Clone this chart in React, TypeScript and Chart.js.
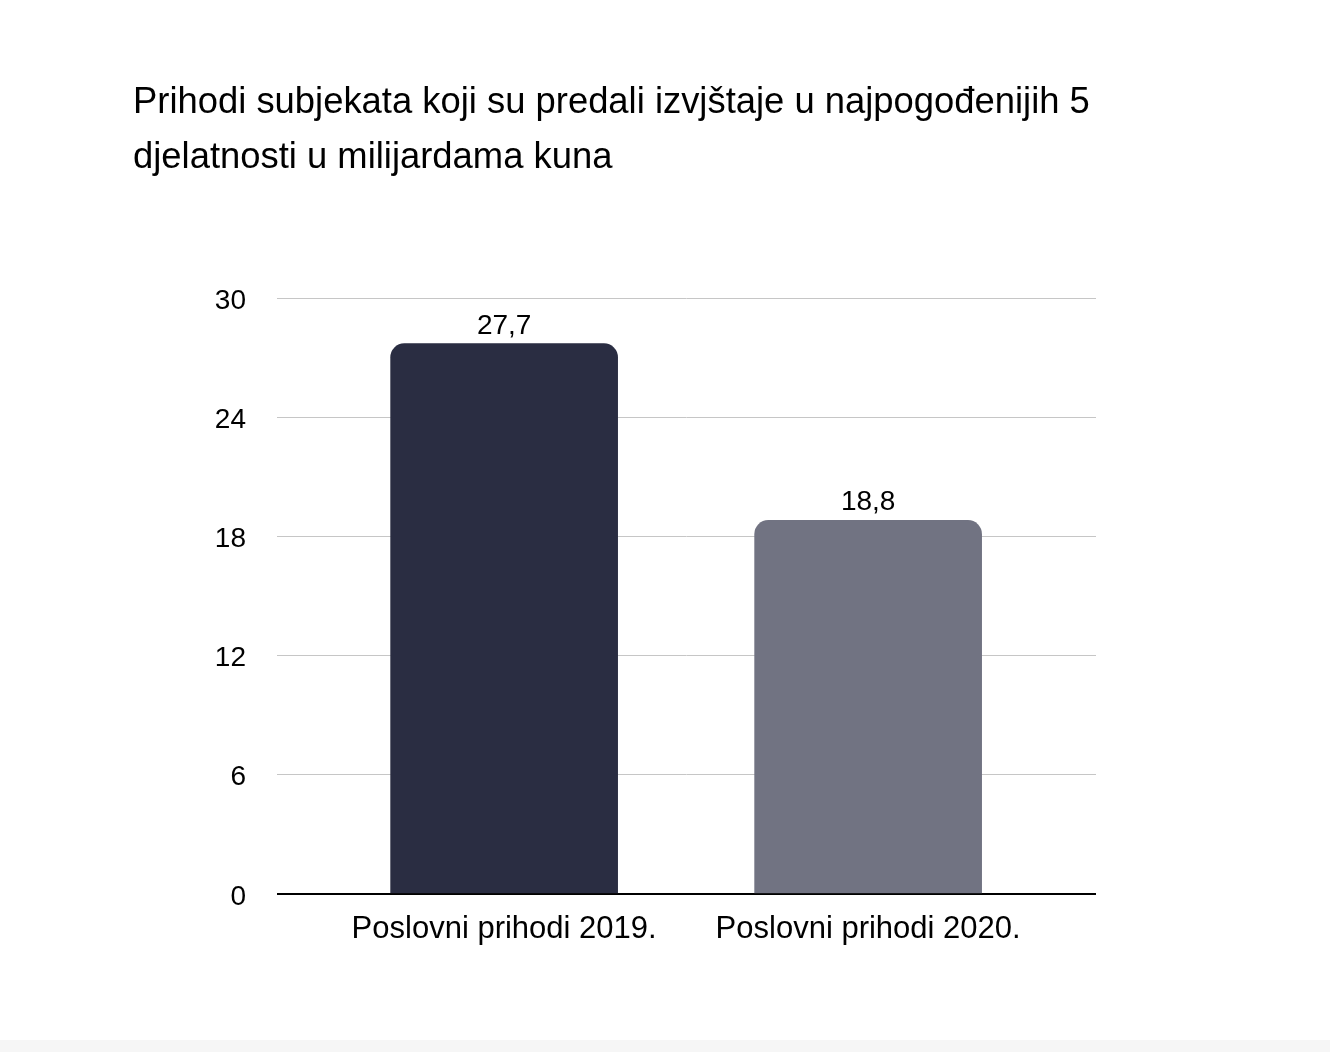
import { useEffect, useRef } from "react";
import { Chart, registerables } from "chart.js";

Chart.register(...registerables);

const categories = ["Poslovni prihodi 2019.", "Poslovni prihodi 2020."];
const values = [27.7, 18.8];
const barColors = ["#2a2d42", "#717382"];
const yTicks = [0, 6, 12, 18, 24, 30];
const titleLines = [
  "Prihodi subjekata koji su predali izvjštaje u najpogođenijih 5",
  "djelatnosti u milijardama kuna",
];

const FONT = "'Liberation Sans', Helvetica, Arial, sans-serif";

const fmt = (v: number) => v.toFixed(1).replace(".", ",");

const valueLabels = {
  id: "valueLabels",
  afterDatasetsDraw(chart: Chart) {
    const { ctx } = chart;
    const meta = chart.getDatasetMeta(0);
    ctx.save();
    ctx.font = `28px ${FONT}`;
    ctx.fillStyle = "#000";
    ctx.textAlign = "center";
    ctx.textBaseline = "alphabetic";
    meta.data.forEach((el: any, i: number) => {
      ctx.fillText(fmt(values[i]), el.x, el.y - 10);
    });
    ctx.restore();
  },
};

export default function App() {
  const canvasRef = useRef<HTMLCanvasElement | null>(null);

  useEffect(() => {
    if (!canvasRef.current) return;

    const chart = new Chart(canvasRef.current, {
      type: "bar",
      data: {
        datasets: [
          {
            data: values.map((v, i) => ({ x: i, y: v })),
            backgroundColor: barColors,
            borderWidth: 0,
            borderRadius: 14,
            borderSkipped: "start",
            barThickness: 227,
          },
        ],
      },
      options: {
        responsive: true,
        maintainAspectRatio: false,
        animation: false,
        layout: {
          padding: { left: 133, right: 234, top: 0, bottom: 95 },
        },
        plugins: {
          legend: { display: false },
          tooltip: { enabled: false },
          title: {
            display: true,
            text: titleLines,
            align: "start",
            color: "#000",
            font: { family: FONT, size: 36.4, weight: "normal", lineHeight: 55 / 36.4 },
            padding: { top: 75, bottom: 113 },
          },
        },
        scales: {
          x: {
            type: "linear",
            min: -0.624,
            max: 1.626,
            offset: false,
            bounds: "data",
            grid: { display: false, offset: false },
            border: { display: false },
            afterBuildTicks: (scale: any) => {
              scale.ticks = categories.map((_, i) => ({ value: i }));
            },
            ticks: {
              color: "#000",
              padding: 9,
              maxRotation: 0,
              minRotation: 0,
              autoSkip: false,
              font: { family: FONT, size: 31 },
              callback: (v: any) => categories[v] ?? "",
            },
          },
          y: {
            min: 0,
            max: 30,
            afterBuildTicks: (scale: any) => {
              scale.ticks = yTicks.map((v) => ({ value: v }));
            },
            afterFit: (scale: any) => {
              scale.width = 144;
            },
            border: { display: false },
            grid: {
              drawTicks: false,
              color: (c: any) => (c.tick && c.tick.value === 0 ? "#000" : "#c6c6c6"),
              lineWidth: (c: any) => (c.tick && c.tick.value === 0 ? 2 : 1),
            },
            ticks: {
              color: "#000",
              padding: 31,
              labelOffset: 3,
              font: { family: FONT, size: 28 },
            },
          },
        },
      },
      plugins: [valueLabels],
    });

    return () => {
      chart.destroy();
    };
  }, []);

  return (
    <div
      style={{
        position: "fixed",
        top: 0,
        left: 0,
        width: 1330,
        height: 1052,
        background: "linear-gradient(#fff 0, #fff 1040px, #f6f6f6 1040px)",
      }}
    >
      <canvas ref={canvasRef}></canvas>
    </div>
  );
}
